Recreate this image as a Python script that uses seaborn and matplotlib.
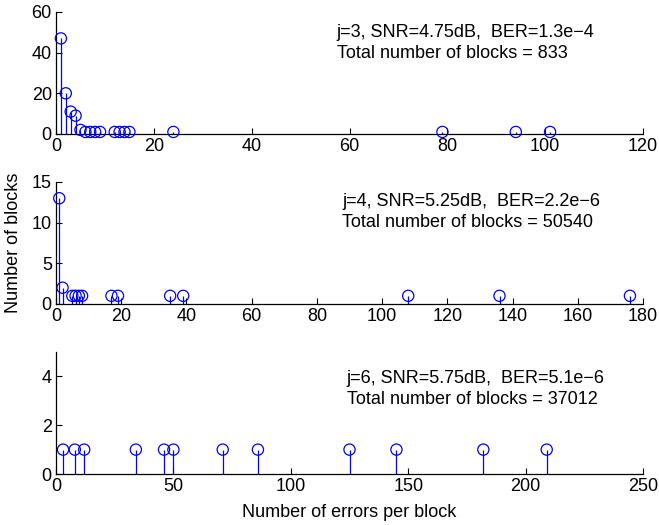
import matplotlib
matplotlib.use("Agg")
import matplotlib.pyplot as plt
import seaborn as sns
import pandas as pd

sns.set_theme(style="white")
plt.rcParams['font.family'] = ['Liberation Sans', 'DejaVu Sans']
plt.rcParams['text.color'] = 'black'
plt.rcParams['axes.labelcolor'] = 'black'

# Panel 1: j=3
x1 = [1, 2, 3, 4, 5, 6, 7, 8, 9, 12, 13, 14, 15, 24, 79, 94, 101]
y1 = [47, 20, 11, 9, 2, 1, 1, 1, 1, 1, 1, 1, 1, 1, 1, 1, 1]
# Panel 2: j=4
x2 = [1, 2, 5, 6, 7, 8, 17, 19, 35, 39, 108, 136, 176]
y2 = [13, 2, 1, 1, 1, 1, 1, 1, 1, 1, 1, 1, 1]
# Panel 3: j=6
x3 = [3, 8, 12, 34, 46, 50, 71, 86, 125, 145, 182, 209]
y3 = [1, 1, 1, 1, 1, 1, 1, 1, 1, 1, 1, 1]

labels = [
    "j=3, SNR=4.75dB,  BER=1.3e\u22124\nTotal number of blocks = 833",
    "j=4, SNR=5.25dB,  BER=2.2e\u22126\nTotal number of blocks = 50540",
    "j=6, SNR=5.75dB,  BER=5.1e\u22126\nTotal number of blocks = 37012",
]
xlims = [(0, 120), (0, 180), (0, 250)]
ylims = [(0, 60), (0, 15), (0, 5)]
xticks = [list(range(0, 121, 20)), list(range(0, 181, 20)), list(range(0, 251, 50))]
yticks = [[0, 20, 40, 60], [0, 5, 10, 15], [0, 2, 4]]
text_pos = [(0.478, 0.746), (0.488, 0.757), (0.495, 0.70)]

fig = plt.figure(figsize=(6.59, 5.25), dpi=100)
left, width, height = 0.085, 0.8907, 0.2324
bottoms = [0.7448, 0.421, 0.0971]

data = [(x1, y1), (x2, y2), (x3, y3)]
FS = 13
for i, (xs, ys) in enumerate(data):
    ax = fig.add_axes([left, bottoms[i], width, height])
    df = pd.DataFrame({"errors": xs, "blocks": ys})
    ax.vlines(df["errors"], 0, df["blocks"], color="#0000ff", linewidth=0.9, zorder=2)
    sns.scatterplot(data=df, x="errors", y="blocks", ax=ax, marker="o", s=65,
                    facecolor="none", edgecolor="#0000ff", linewidth=0.9, zorder=3,
                    clip_on=False)
    ax.set_xlim(*xlims[i])
    ax.set_ylim(*ylims[i])
    ax.set_xticks(xticks[i])
    ax.set_yticks(yticks[i])
    ax.set_xlabel("")
    ax.set_ylabel("")
    for s in ["top", "right"]:
        ax.spines[s].set_visible(False)
    for s in ["left", "bottom"]:
        ax.spines[s].set_color("black")
        ax.spines[s].set_linewidth(0.9)
    ax.tick_params(direction="in", length=4, width=0.8, labelsize=FS, colors="black",
                   bottom=True, left=True, pad=3)
    ax.text(text_pos[i][0], text_pos[i][1], labels[i], transform=ax.transAxes,
            fontsize=FS, ha="left", va="center", linespacing=1.3, color="black")
    if i == 2:
        ax.set_xlabel("Number of errors per block", fontsize=FS, labelpad=6, color="black")

fig.text(0.02, 0.537, "Number of blocks", rotation=90, fontsize=FS, ha="center",
         va="center", color="black")

fig.savefig("out.png", dpi=100)
